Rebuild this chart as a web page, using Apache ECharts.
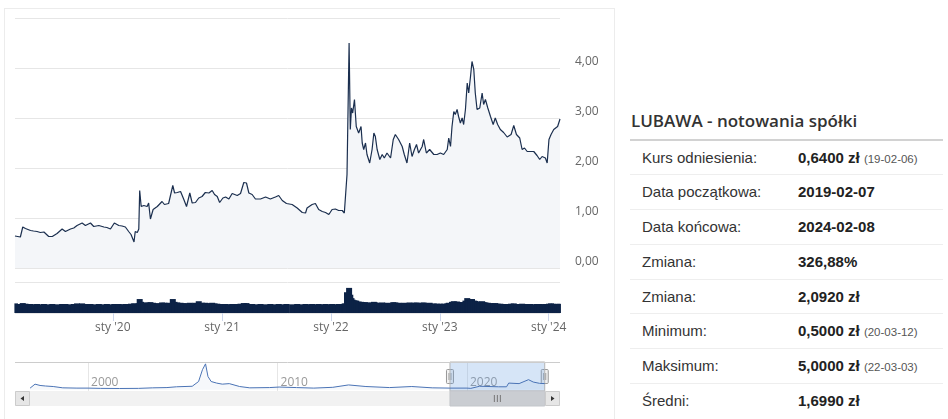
<!DOCTYPE html>
<html lang="pl">
<head>
<meta charset="utf-8">
<title>LUBAWA - notowania spółki</title>
<script src="https://cdn.jsdelivr.net/npm/echarts@6/dist/echarts.min.js"></script>
<style>
    html, body { margin: 0; padding: 0; background: #fff; }
    body { width: 948px; height: 419px; overflow: hidden; position: relative; font-family: "Liberation Sans", Arial, sans-serif; }
    #frame { position: absolute; left: 4px; top: 8px; width: 609px; height: 430px; border: 1px solid #ececec; }
    #chart { position: absolute; left: 0; top: 0; width: 620px; height: 419px; }
    #info { position: absolute; left: 630px; top: 108.5px; width: 313px; }
    #info h2 { margin: 0; padding: 0 0 6px 1px; font-family: "Open Sans", sans-serif; font-weight: 600; font-size: 17px; line-height: 24px; color: #333; border-bottom: 2px solid #d2d2d2; }
    #info .row { height: 33.8px; line-height: 33.8px; border-bottom: 1px solid #eee; font-size: 15px; color: #333; white-space: nowrap; }
    #info .row:last-child { border-bottom: none; }
    #info .lbl { display: inline-block; width: 156px; padding-left: 12px; }
    #info .val { font-weight: bold; color: #222; }
    #info .val small { font-weight: normal; font-size: 11.5px; color: #555; }
</style>
</head>
<body>
<div id="frame"></div>
<div id="chart"></div>
<div id="info">
    <h2>LUBAWA - notowania spółki</h2>
    <div class="row"><span class="lbl">Kurs odniesienia:</span><span class="val">0,6400 zł <small>(19-02-06)</small></span></div>
    <div class="row"><span class="lbl">Data początkowa:</span><span class="val">2019-02-07</span></div>
    <div class="row"><span class="lbl">Data końcowa:</span><span class="val">2024-02-08</span></div>
    <div class="row"><span class="lbl">Zmiana:</span><span class="val">326,88%</span></div>
    <div class="row"><span class="lbl">Zmiana:</span><span class="val">2,0920 zł</span></div>
    <div class="row"><span class="lbl">Minimum:</span><span class="val">0,5000 zł <small>(20-03-12)</small></span></div>
    <div class="row"><span class="lbl">Maksimum:</span><span class="val">5,0000 zł <small>(22-03-03)</small></span></div>
    <div class="row"><span class="lbl">Średni:</span><span class="val">1,6990 zł</span></div>
</div>
<script>
// zakres widoczny i zakres nawigatora
var viewStart = '2019-02-07';
var viewEnd = '2024-02-08';
var navStart = '1996-02-23';
var navEnd = '2024-11-28';

// etykiety osi
var yearTicks = ['2020-01-01', '2021-01-01', '2022-01-01', '2023-01-01', '2024-01-01'];
var decadeTicks = ['2000-01-01', '2010-01-01', '2020-01-01'];

// notowania (kurs zamknięcia, zł) - każdy wiersz = jeden rok, ta sama długość w trzech tablicach
var priceDates = [
    '2019-02-07', '2019-02-25', '2019-03-05', '2019-03-14', '2019-03-31', '2019-04-10', '2019-04-22', '2019-05-03', '2019-05-15', '2019-05-31', '2019-06-12', '2019-06-28', '2019-07-15', '2019-07-26', '2019-08-12', '2019-08-23', '2019-09-03', '2019-09-20', '2019-10-01', '2019-10-18', '2019-10-29', '2019-11-15', '2019-12-02', '2019-12-12', '2019-12-24',
    '2020-01-06', '2020-01-21', '2020-02-01', '2020-02-12', '2020-02-23', '2020-03-02', '2020-03-12', '2020-03-16', '2020-03-23', '2020-03-28', '2020-03-31', '2020-04-05', '2020-04-14', '2020-04-25', '2020-04-30', '2020-05-06', '2020-05-15', '2020-05-29', '2020-06-14', '2020-06-22', '2020-07-06', '2020-07-20', '2020-07-26', '2020-08-04', '2020-08-15', '2020-08-26', '2020-09-04', '2020-09-15', '2020-09-23', '2020-10-04', '2020-10-15', '2020-10-26', '2020-11-06', '2020-11-18', '2020-11-29', '2020-12-07', '2020-12-16', '2020-12-24',
    '2021-01-04', '2021-01-13', '2021-01-24', '2021-02-04', '2021-02-21', '2021-03-04', '2021-03-15', '2021-03-24', '2021-04-01', '2021-04-12', '2021-04-23', '2021-05-10', '2021-05-27', '2021-06-12', '2021-06-29', '2021-07-10', '2021-07-22', '2021-08-05', '2021-08-24', '2021-09-10', '2021-09-27', '2021-10-08', '2021-10-13', '2021-10-30', '2021-11-10', '2021-11-21', '2021-12-03', '2021-12-14', '2021-12-25',
    '2022-01-05', '2022-01-16', '2022-01-27', '2022-02-08', '2022-02-15', '2022-02-18', '2022-02-24', '2022-03-03', '2022-03-07', '2022-03-11', '2022-03-15', '2022-03-21', '2022-03-27', '2022-04-04', '2022-04-12', '2022-04-16', '2022-04-21', '2022-04-27', '2022-05-02', '2022-05-11', '2022-05-19', '2022-05-25', '2022-05-30', '2022-06-05', '2022-06-14', '2022-06-22', '2022-06-29', '2022-07-08', '2022-07-20', '2022-07-29', '2022-08-05', '2022-08-16', '2022-08-28', '2022-09-04', '2022-09-13', '2022-09-22', '2022-09-30', '2022-10-08', '2022-10-15', '2022-10-22', '2022-11-03', '2022-11-08', '2022-11-17', '2022-11-28', '2022-12-12', '2022-12-23',
    '2023-01-03', '2023-01-14', '2023-01-26', '2023-01-31', '2023-02-06', '2023-02-11', '2023-02-17', '2023-02-22', '2023-02-28', '2023-03-05', '2023-03-11', '2023-03-17', '2023-03-22', '2023-03-28', '2023-04-03', '2023-04-08', '2023-04-14', '2023-04-19', '2023-04-25', '2023-04-30', '2023-05-06', '2023-05-15', '2023-05-23', '2023-05-28', '2023-06-03', '2023-06-11', '2023-06-20', '2023-06-29', '2023-07-06', '2023-07-14', '2023-07-23', '2023-08-03', '2023-08-15', '2023-08-20', '2023-08-28', '2023-09-06', '2023-09-15', '2023-09-26', '2023-10-04', '2023-10-12', '2023-10-21', '2023-11-01', '2023-11-12', '2023-11-23', '2023-12-02', '2023-12-10', '2023-12-21', '2023-12-27',
    '2024-01-02', '2024-01-09', '2024-01-18', '2024-01-24', '2024-01-31', '2024-02-06', '2024-02-08'
];
var priceValues = [
    0.64, 0.62, 0.82, 0.79, 0.75, 0.74, 0.73, 0.71, 0.72, 0.63, 0.63, 0.69, 0.78, 0.73, 0.78, 0.80, 0.85, 0.90, 0.85, 0.90, 0.83, 0.85, 0.82, 0.81, 0.78,
    0.90, 0.85, 0.84, 0.82, 0.73, 0.67, 0.52, 0.73, 0.71, 0.78, 1.55, 1.23, 1.25, 1.23, 1.30, 0.98, 1.17, 1.23, 1.33, 1.27, 1.29, 1.65, 1.50, 1.51, 1.53, 1.37, 1.23, 1.50, 1.30, 1.31, 1.40, 1.43, 1.51, 1.50, 1.55, 1.47, 1.43, 1.31,
    1.40, 1.42, 1.38, 1.49, 1.45, 1.49, 1.71, 1.70, 1.50, 1.47, 1.38, 1.38, 1.42, 1.38, 1.42, 1.45, 1.35, 1.29, 1.27, 1.20, 1.11, 1.10, 1.20, 1.27, 1.29, 1.17, 1.13, 1.11, 1.07,
    1.17, 1.18, 1.15, 1.15, 1.10, 1.13, 1.87, 4.50, 2.77, 3.20, 3.10, 3.37, 2.83, 2.70, 2.83, 2.50, 2.37, 2.50, 2.27, 2.10, 2.37, 2.70, 2.63, 2.37, 2.17, 2.27, 2.20, 2.30, 2.20, 2.57, 2.67, 2.57, 2.43, 2.27, 2.10, 2.50, 2.23, 2.37, 2.47, 2.30, 2.43, 2.57, 2.30, 2.37, 2.27, 2.27,
    2.30, 2.27, 2.37, 2.60, 2.43, 2.83, 3.13, 3.07, 3.17, 3.03, 2.90, 3.00, 2.87, 3.17, 3.70, 3.50, 3.83, 4.13, 3.97, 3.50, 3.17, 3.20, 3.50, 3.27, 3.37, 3.20, 3.03, 2.87, 3.00, 2.87, 2.77, 2.71, 2.62, 2.58, 2.67, 2.85, 2.67, 2.60, 2.37, 2.40, 2.33, 2.33, 2.33, 2.25, 2.17, 2.23, 2.20, 2.10,
    2.57, 2.67, 2.77, 2.73, 2.83, 2.80, 2.98
];
// wolumen (jednostki względne)
var volumeValues = [
    31, 29, 32, 30, 29, 28, 29, 28, 29, 28, 29, 28, 29, 29, 28, 29, 31, 31, 29, 29, 28, 29, 28, 29, 28,
    29, 29, 28, 29, 29, 30, 31, 30, 30, 31, 45, 36, 33, 34, 33, 35, 33, 32, 34, 33, 33, 45, 36, 34, 33, 32, 31, 33, 31, 33, 38, 33, 33, 32, 33, 31, 30, 29,
    29, 29, 28, 29, 29, 30, 32, 32, 29, 29, 28, 29, 28, 29, 28, 29, 28, 29, 28, 29, 28, 29, 28, 29, 28, 29, 28, 29, 28,
    29, 28, 29, 29, 30, 31, 67, 81, 59, 48, 43, 41, 40, 37, 36, 35, 34, 35, 33, 33, 34, 36, 34, 33, 32, 34, 32, 33, 32, 35, 34, 33, 32, 33, 32, 34, 32, 33, 34, 32, 33, 34, 32, 33, 31, 30,
    30, 30, 31, 33, 32, 36, 38, 36, 37, 35, 34, 35, 34, 40, 48, 42, 44, 45, 40, 39, 37, 36, 38, 35, 34, 33, 32, 31, 32, 30, 30, 29, 29, 29, 30, 31, 29, 29, 30, 29, 29, 29, 28, 29, 29, 28, 29, 29,
    30, 31, 30, 29, 29, 29, 30
];

// pełna historia do nawigatora (zł)
var navDates = [
    '1996-12-10', '1997-03-15', '1997-06-20', '1997-10-01', '1998-03-01', '1998-09-01', '1999-06-01', '2000-01-01', '2000-09-01', '2001-09-01',
    '2002-09-01', '2003-06-01', '2004-03-01', '2004-09-01', '2005-07-01', '2005-11-01', '2006-01-15', '2006-03-15', '2006-05-01', '2006-07-01',
    '2006-10-15', '2007-02-01', '2007-06-15', '2008-01-01', '2008-07-15', '2009-08-01', '2010-02-01', '2011-01-01', '2011-12-01', '2012-12-01',
    '2013-10-01', '2014-09-01', '2015-12-01', '2017-02-01', '2018-03-01', '2019-02-07', '2020-01-01', '2020-03-15', '2020-09-01', '2021-09-01',
    '2022-02-01', '2022-03-15', '2022-10-01', '2023-04-01', '2023-07-01', '2023-11-01', '2024-02-08'
];
var navValues = [
    0.6, 2.1, 1.6, 1.4, 1.2, 0.7, 0.6, 0.6, 0.5, 0.45,
    0.5, 0.7, 0.8, 1.1, 1.3, 3.1, 7.6, 9.8, 5.0, 3.1,
    2.5, 2.1, 2.3, 1.2, 0.7, 0.8, 1.0, 0.8, 0.6, 0.9,
    1.8, 1.2, 0.8, 1.2, 0.7, 0.6, 0.6, 0.5, 1.3, 1.1,
    1.1, 2.5, 2.3, 3.8, 2.9, 2.4, 2.3
];

// daty -> znacznik czasu (oś wartości w ms)
function ts(s) {
    return echarts.number.parseDate(s).getTime();
}

function zipData(dates, values) {
    var out = [];
    for (var i = 0; i < dates.length; i++) {
        out.push([ts(dates[i]), values[i]]);
    }
    return out;
}

var chart = echarts.init(document.getElementById('chart'));

var labelFont = '"Open Sans", sans-serif';

chart.setOption({
    animation: false,
    grid: [
        { left: 15, top: 18, width: 545, height: 250 },   // kurs
        { left: 15, top: 282, width: 545, height: 31 },   // wolumen
        { left: 15, top: 362, width: 545, height: 29 }    // nawigator
    ],
    xAxis: [
        { type: 'value', gridIndex: 0, min: ts(viewStart), max: ts(viewEnd), show: false, splitLine: { show: false } },
        {
            type: 'value', gridIndex: 1, min: ts(viewStart), max: ts(viewEnd),
            axisLine: { show: false },
            axisTick: { show: true, length: 8, lineStyle: { color: '#ccd6eb' }, customValues: yearTicks.map(ts) },
            axisLabel: {
                customValues: yearTicks.map(ts),
                margin: 9,
                color: '#666',
                fontSize: 12,
                fontFamily: labelFont,
                formatter: function (v) {
                    return "sty '" + String(new Date(v).getFullYear()).slice(2);
                }
            },
            splitLine: { show: false }
        },
        {
            type: 'value', gridIndex: 2, min: ts(navStart), max: ts(navEnd),
            axisLine: { show: false },
            axisTick: { show: false, customValues: decadeTicks.map(ts) },
            axisLabel: {
                inside: true,
                customValues: decadeTicks.map(ts),
                align: 'left',
                margin: 2,
                padding: [0, 0, 0, 3],
                color: '#999',
                fontSize: 12,
                fontFamily: labelFont,
                formatter: function (v) {
                    return String(new Date(v).getFullYear());
                }
            },
            splitLine: { show: true, lineStyle: { color: '#e6e6e6' } }
        }
    ],
    yAxis: [
        {
            type: 'value', gridIndex: 0, position: 'right', min: 0, max: 5, interval: 1,
            axisLine: { show: false },
            axisTick: { show: false },
            axisLabel: {
                margin: 15,
                color: '#666',
                fontSize: 12,
                fontFamily: labelFont,
                verticalAlign: 'bottom',
                formatter: function (v) {
                    return v === 5 ? '' : v.toFixed(2).replace('.', ',');
                }
            },
            splitLine: { lineStyle: { color: '#e6e6e6' } }
        },
        {
            type: 'value', gridIndex: 1, min: 0, max: 100, interval: 100,
            axisLine: { show: false },
            axisTick: { show: false },
            axisLabel: { show: false },
            splitLine: { lineStyle: { color: '#e6e6e6' } }
        },
        { type: 'value', gridIndex: 2, min: -0.5, max: 10.5, show: false, splitLine: { show: false } }
    ],
    series: [
        {
            name: 'Kurs',
            type: 'line',
            xAxisIndex: 0,
            yAxisIndex: 0,
            data: zipData(priceDates, priceValues),
            showSymbol: false,
            lineStyle: { color: '#1b2f4f', width: 1.2 },
            areaStyle: { color: '#f4f6f9', opacity: 1 }
        },
        {
            name: 'Wolumen',
            type: 'bar',
            xAxisIndex: 1,
            yAxisIndex: 1,
            data: zipData(priceDates, volumeValues),
            barWidth: 6,
            itemStyle: { color: '#0c2246' }
        },
        {
            name: 'Historia',
            type: 'line',
            xAxisIndex: 2,
            yAxisIndex: 2,
            data: zipData(navDates, navValues),
            showSymbol: false,
            lineStyle: { color: '#4a73b5', width: 1 },
            areaStyle: { color: 'rgba(51,92,173,0.06)' },
            markArea: {
                silent: true,
                itemStyle: { color: 'rgba(102,160,225,0.27)', borderColor: '#b5b5b5', borderWidth: 1 },
                data: [[{ xAxis: ts(viewStart) }, { xAxis: ts(viewEnd) }]]
            }
        }
    ]
});

// nawigator: ramka, uchwyty i pasek przewijania
var navTop = 362, navBottom = 391, navLeft = 15, navRight = 560, barH = 15;
var x0 = chart.convertToPixel({ xAxisIndex: 2 }, ts(viewStart));
var x1 = chart.convertToPixel({ xAxisIndex: 2 }, ts(viewEnd));
var mid = (x0 + x1) / 2;
var hy = (navTop + navBottom) / 2;

function handle(x) {
    return {
        type: 'group',
        z: 100,
        children: [
            { type: 'rect', shape: { x: x - 3.5, y: hy - 7, width: 7, height: 14, r: 1 }, style: { fill: '#f2f2f2', stroke: '#999', lineWidth: 1 } },
            { type: 'line', shape: { x1: x - 1, y1: hy - 3.5, x2: x - 1, y2: hy + 3.5 }, style: { stroke: '#999', lineWidth: 1 } },
            { type: 'line', shape: { x1: x + 1, y1: hy - 3.5, x2: x + 1, y2: hy + 3.5 }, style: { stroke: '#999', lineWidth: 1 } }
        ]
    };
}

chart.setOption({
    graphic: [
        { type: 'line', z: 50, shape: { x1: navLeft, y1: navTop + 0.5, x2: navRight, y2: navTop + 0.5 }, style: { stroke: '#cccccc', lineWidth: 1 } },
        { type: 'rect', z: 50, shape: { x: navLeft, y: navBottom, width: navRight - navLeft, height: barH }, style: { fill: '#f2f2f2' } },
        { type: 'rect', z: 51, shape: { x: x0, y: navBottom, width: x1 - x0, height: barH }, style: { fill: '#cacdd2', stroke: '#c3c6cb', lineWidth: 1 } },
        { type: 'line', z: 52, shape: { x1: mid - 3, y1: navBottom + 4, x2: mid - 3, y2: navBottom + 11 }, style: { stroke: '#777', lineWidth: 1 } },
        { type: 'line', z: 52, shape: { x1: mid, y1: navBottom + 4, x2: mid, y2: navBottom + 11 }, style: { stroke: '#777', lineWidth: 1 } },
        { type: 'line', z: 52, shape: { x1: mid + 3, y1: navBottom + 4, x2: mid + 3, y2: navBottom + 11 }, style: { stroke: '#777', lineWidth: 1 } },
        { type: 'rect', z: 53, shape: { x: navLeft + 0.5, y: navBottom + 0.5, width: 14, height: barH - 1 }, style: { fill: '#e6e6e6', stroke: '#cccccc', lineWidth: 1 } },
        { type: 'polygon', z: 54, shape: { points: [[navLeft + 5.5, navBottom + 7.5], [navLeft + 9, navBottom + 5], [navLeft + 9, navBottom + 10]] }, style: { fill: '#333' } },
        { type: 'rect', z: 53, shape: { x: navRight - 14.5, y: navBottom + 0.5, width: 14, height: barH - 1 }, style: { fill: '#e6e6e6', stroke: '#cccccc', lineWidth: 1 } },
        { type: 'polygon', z: 54, shape: { points: [[navRight - 5.5, navBottom + 7.5], [navRight - 9, navBottom + 5], [navRight - 9, navBottom + 10]] }, style: { fill: '#333' } },
        handle(x0),
        handle(x1)
    ]
});
</script>
</body>
</html>
